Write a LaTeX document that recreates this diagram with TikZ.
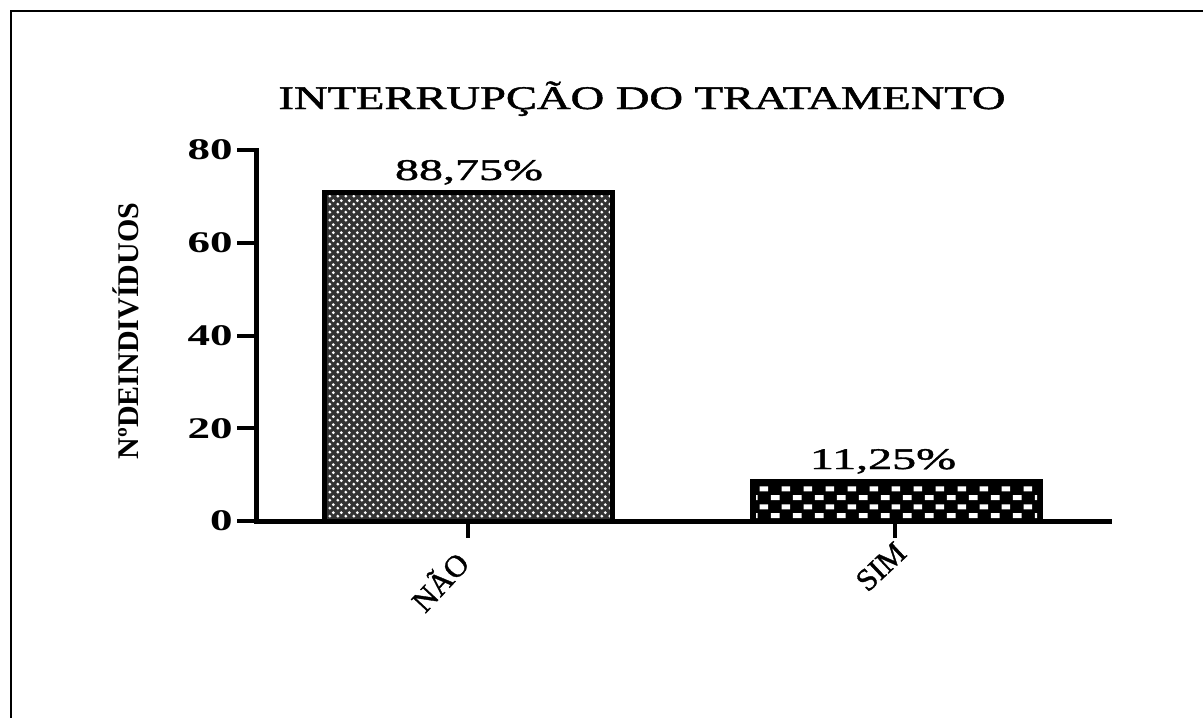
\documentclass[tikz,border=0pt]{standalone}
\usepackage{fontspec}
\setmainfont{Liberation Serif}
\newfontfamily\heavyserif[FakeBold=1.2]{Liberation Serif}
\usetikzlibrary{patterns.meta}
\tikzdeclarepattern{
  name=naodots,
  type=uncolored,
  bounding box={(0pt,0pt) and (8pt,8pt)},
  tile size={(8pt,8pt)},
  code={
    \fill (2pt,2pt) circle (1.7pt);
    \fill (6pt,6pt) circle (1.7pt);
  }
}
\tikzdeclarepattern{
  name=simchecks,
  type=uncolored,
  bounding box={(0pt,0pt) and (22pt,18pt)},
  tile size={(22pt,18pt)},
  code={
    \fill (1pt,2pt) rectangle (10pt,7pt);
    \fill (12pt,11pt) rectangle (21pt,16pt);
  }
}
\tikzset{
  frameline/.style={line width=2pt},
  axisline/.style={line width=5pt},
  tickline/.style={line width=4pt},
  barbox/.style={line width=5pt},
  ticklabel/.style={font=\fontsize{30}{36}\selectfont\bfseries, inner sep=0pt, anchor=east, xscale=1.5},
  valuelabel/.style={font=\fontsize{30}{36}\selectfont\heavyserif, inner sep=0pt, anchor=base, xscale=1.6},
  catlabel/.style={font=\fontsize{31}{36}\selectfont\heavyserif, inner sep=0pt, anchor=north east},
}
\begin{document}
\begin{tikzpicture}[x=1pt,y=-1pt]
\useasboundingbox (0,0) rectangle (1203,718);
\fill[white] (0,0) rectangle (1203,718);
% frame
\draw[frameline] (11,718) -- (11,11) -- (1203,11);
% title
\node[font=\fontsize{33}{40}\selectfont\heavyserif, inner sep=0pt, anchor=base, xscale=1.41] (title) at (642,109) {INTERRUPÇÃO DO TRATAMENTO};
% y label
\node[font=\fontsize{30}{36}\selectfont\bfseries, inner sep=0pt, rotate=90] (ylab) at (126,331) {NºDEINDIVÍDUOS};
% bars
\fill[black!80] (324.5,192.5) rectangle (612.5,521);
\fill[pattern=naodots, pattern color=white] (326,194) rectangle (611,519);
\draw[barbox] (324.5,192.5) rectangle (612.5,521);
\fill[black] (752.5,481.5) rectangle (1040.5,521);
\fill[pattern=simchecks, pattern color=white] (756,485) rectangle (1037,518);
\draw[barbox] (752.5,481.5) rectangle (1040.5,521);
% axes
\coordinate (ytop) at (256,148);
\coordinate (origin) at (256,521);
\coordinate (xend) at (1112,521);
\draw[axisline] (ytop) -- (origin) -- (xend);
% y ticks
\foreach \v/\yy in {0/521,20/428.25,40/335.5,60/242.75,80/150}{
  \coordinate (yt\v) at (237,\yy);
  \coordinate (ya\v) at (256,\yy);
  \draw[tickline] (yt\v) -- (ya\v);
  \node[ticklabel] (yl\v) at (233,\yy) {\v};
}
% x ticks
\coordinate (xa1) at (468,521);
\coordinate (xt1) at (468,538);
\coordinate (xa2) at (895,521);
\coordinate (xt2) at (895,538);
\draw[tickline] (xa1) -- (xt1);
\draw[tickline] (xa2) -- (xt2);
% category labels
\node[catlabel, rotate=47] (nao) at (452,547) {NÃO};
\node[catlabel, rotate=43] (sim) at (894,540) {SIM};
% value labels
\node[valuelabel] (v1) at (469,180) {88,75\%};
\node[valuelabel] (v2) at (883,469) {11,25\%};
\end{tikzpicture}
\end{document}
